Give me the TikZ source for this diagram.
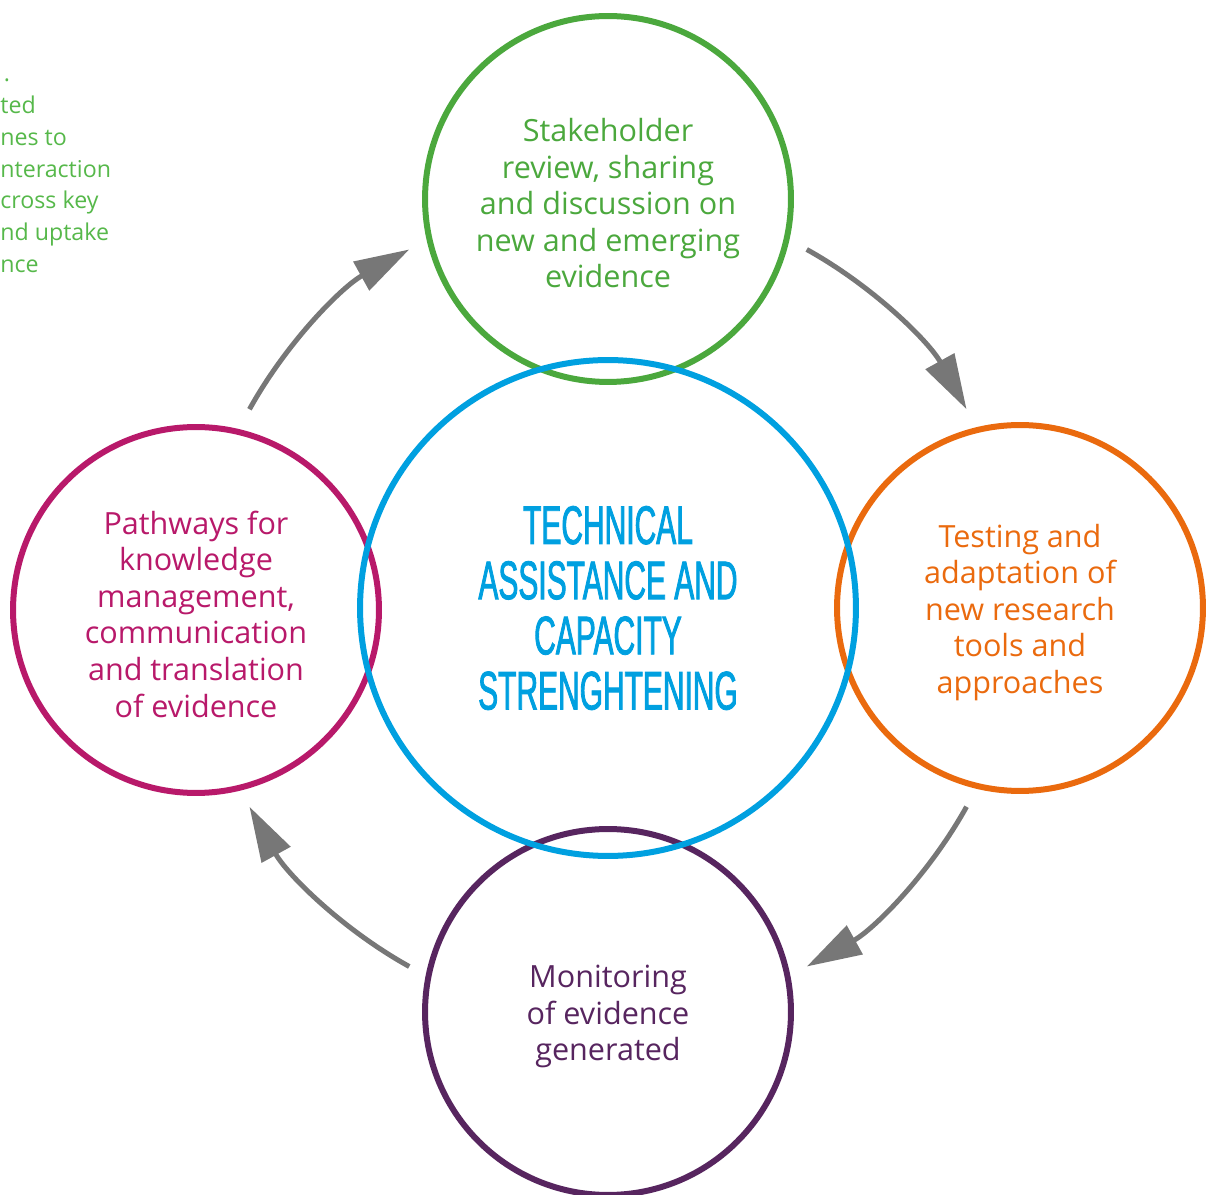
\documentclass[tikz,border=0pt]{standalone}
\usepackage{fontspec}
\setmainfont{Open Sans}
\newfontfamily\condfont[FakeStretch=0.55,FakeBold=1.5]{Liberation Sans}
\usetikzlibrary{arrows.meta}
\definecolor{revgreen}{HTML}{4BA83D}
\definecolor{notegreen}{HTML}{56B84A}
\definecolor{hubblue}{HTML}{00A0E0}
\definecolor{testorange}{HTML}{EA6A0E}
\definecolor{pathmagenta}{HTML}{B8196A}
\definecolor{monpurple}{HTML}{57255F}
\definecolor{arrowgray}{HTML}{777777}
\newcommand{\firstgap}{\rule{0pt}{18pt}}

\begin{document}
\begin{tikzpicture}[x=0.02cm,y=0.02cm,
    stage/.style={draw,circle,line width=0.12cm,minimum size=7.32cm,inner sep=0pt,align=center,
                  font=\fontsize{17.4}{20.8}\selectfont},
    flow/.style={draw=arrowgray,line width=0.1cm,-{Triangle[length=1.1cm,width=0.64cm]}}]
            \clip (0,0) rectangle (1211,-1195);
            \node[anchor=north west,align=left,inner sep=0pt,text=notegreen,font=\fontsize{13.2}{18.1}\selectfont] (note) at (0,-59)
                {\strut\hspace{2pt}.\\ted\\nes to\\nteraction\\cross key\\nd uptake\\nce};

            \node[stage,draw=revgreen,text=revgreen] (review) at (608,-199) {\firstgap Stakeholder\\review, sharing\\and discussion on\\new and emerging\\evidence};
            \node[stage,draw=testorange,text=testorange] (testing) at (1020,-608) {\firstgap Testing and\\adaptation of\\new research\\tools and\\approaches};
            \node[stage,draw=monpurple,text=monpurple] (monitor) at (608,-1012) {\firstgap Monitoring\\of evidence\\generated};
            \node[stage,draw=pathmagenta,text=pathmagenta] (pathways) at (196,-610) {\firstgap Pathways for\\knowledge\\management,\\communication\\and translation\\of evidence};
            \node[draw=hubblue,text=hubblue,circle,line width=0.12cm,minimum size=9.92cm,inner sep=0pt,align=center,
                  font=\condfont\fontsize{31}{31.4}\selectfont] (hub) at (608,-608) {TECHNICAL\\ASSISTANCE AND\\CAPACITY\\STRENGHTENING};

            \draw[flow] (hub.center) ++(151:8.2cm) arc[start angle=151,end angle=119,radius=8.2cm];
            \draw[flow] (hub.center) ++(61:8.2cm) arc[start angle=61,end angle=29,radius=8.2cm];
            \draw[flow] (hub.center) ++(-29:8.2cm) arc[start angle=-29,end angle=-61,radius=8.2cm];
            \draw[flow] (hub.center) ++(-119:8.2cm) arc[start angle=-119,end angle=-151,radius=8.2cm];
        \end{tikzpicture}
\end{document}
